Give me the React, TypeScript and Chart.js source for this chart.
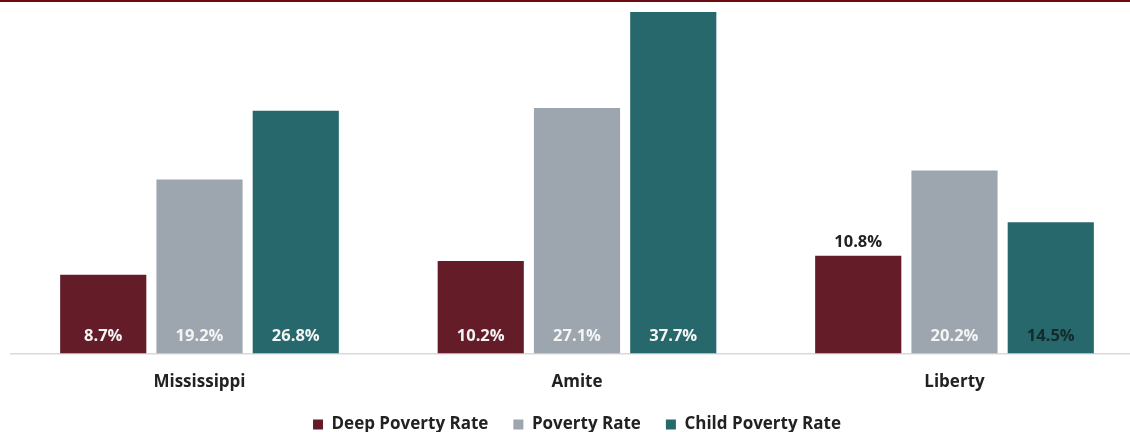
import { useEffect, useRef } from "react";
import { Chart, registerables } from "chart.js";

Chart.register(...registerables);

const categories = ["Mississippi", "Amite", "Liberty"];
const seriesNames = ["Deep Poverty Rate", "Poverty Rate", "Child Poverty Rate"];
const deepPoverty = [8.7, 10.2, 10.8];
const poverty = [19.2, 27.1, 20.2];
const childPoverty = [26.8, 37.7, 14.5];
const seriesColors = ["#631c28", "#9da6af", "#27686d"];
// where each value label sits: "in" = inside near the base, "above" = above the bar
const deepPlacement = ["in", "in", "above"];
const povertyPlacement = ["in", "in", "in"];
const childPlacement = ["in", "in", "in"];
const deepLabelColor = ["#f4f4f4", "#f4f4f4", "#222222"];
const povertyLabelColor = ["#f4f4f4", "#f4f4f4", "#f4f4f4"];
const childLabelColor = ["#f4f4f4", "#f4f4f4", "#152a2c"];

const FONT = "'Open Sans', 'Noto Sans', sans-serif";

const placements = [deepPlacement, povertyPlacement, childPlacement];
const labelColors = [deepLabelColor, povertyLabelColor, childLabelColor];

const barLabels = {
  id: "barLabels",
  afterDatasetsDraw(chart: any) {
    const ctx = chart.ctx;
    const base = chart.scales.y.getPixelForValue(0);
    ctx.save();
    ctx.font = `bold 16.5px ${FONT}`;
    ctx.textAlign = "center";
    ctx.textBaseline = "middle";
    chart.data.datasets.forEach((ds: any, di: number) => {
      const meta = chart.getDatasetMeta(di);
      meta.data.forEach((bar: any, i: number) => {
        const v = ds.data[i];
        const above = placements[di][i] === "above";
        const y = above ? bar.y - 13 : base - 17;
        ctx.fillStyle = labelColors[di][i];
        ctx.fillText(v.toFixed(1) + "%", bar.x, y);
      });
    });
    ctx.restore();
  },
};

const topRule = {
  id: "topRule",
  beforeDraw(chart: any) {
    const ctx = chart.ctx;
    ctx.save();
    ctx.strokeStyle = "#6a0b12";
    ctx.lineWidth = 2;
    ctx.beginPath();
    ctx.moveTo(0, 1);
    ctx.lineTo(chart.width, 1);
    ctx.stroke();
    ctx.restore();
  },
};

export default function App() {
  const ref = useRef<HTMLCanvasElement | null>(null);
  useEffect(() => {
    if (!ref.current) return;
    const data = [deepPoverty, poverty, childPoverty];
    const chart = new Chart(ref.current, {
      type: "bar",
      data: {
        labels: categories,
        datasets: seriesNames.map((name, k) => ({
          label: name,
          data: data[k],
          backgroundColor: seriesColors[k],
          borderWidth: 0,
          barPercentage: 0.895,
          categoryPercentage: 0.765,
        })),
      },
      options: {
        animation: false,
        responsive: false,
        devicePixelRatio: 1,
        layout: { padding: { left: 10.75, right: 6.75, top: 12, bottom: -11 } },
        plugins: {
          tooltip: { enabled: false },
          legend: {
            position: "bottom",
            labels: {
              boxWidth: 10,
              boxHeight: 10,
              padding: 25,
              color: "#222222",
              font: { family: FONT, size: 17, weight: "bold" },
            },
          },
        },
        scales: {
          x: {
            grid: { display: false, drawTicks: false },
            border: { display: true, color: "#d9d9d9", width: 1.5 },
            ticks: {
              padding: 18,
              color: "#222222",
              font: { family: FONT, size: 17, weight: "bold" },
            },
            afterFit(scale: any) {
              scale.height = 37.5;
            },
          },
          y: {
            display: false,
            min: 0,
            max: 37.7,
          },
        },
      },
      plugins: [barLabels, topRule],
    });
    return () => chart.destroy();
  }, []);
  return (
    <div
      style={{
        position: "fixed",
        left: 0,
        top: 0,
        width: 1130,
        height: 432,
        overflow: "hidden",
        background: "#ffffff",
      }}
    >
      <canvas ref={ref} width={1150} height={432} style={{ display: "block" }} />
    </div>
  );
}
